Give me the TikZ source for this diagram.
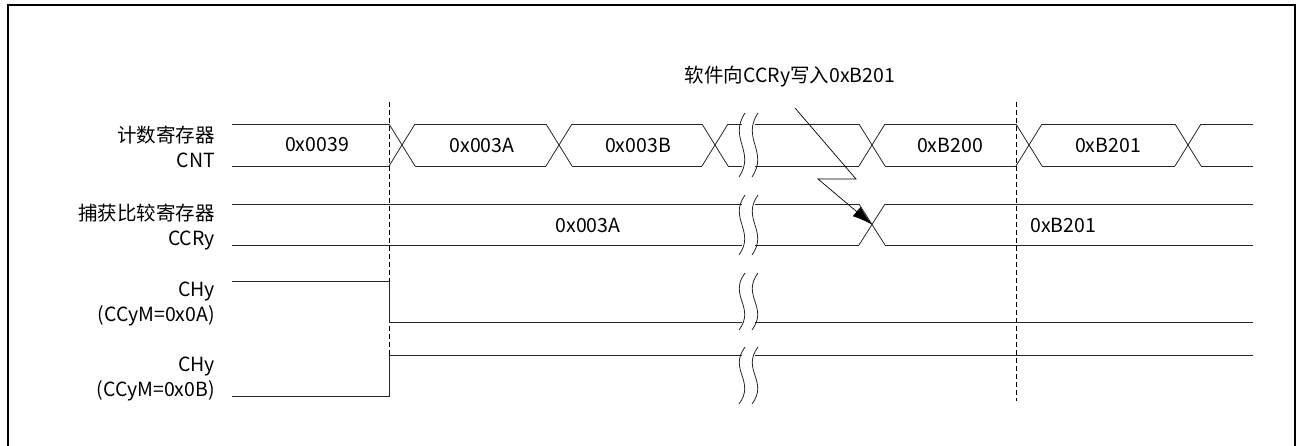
\documentclass[tikz,border=0pt]{standalone}
\usepackage{fontspec}
\setmainfont{Noto Sans CJK SC}
\usetikzlibrary{arrows.meta}
\tikzset{
  sig/.style={line width=0.8pt, black!85},
  guide/.style={line width=0.7pt, dash pattern=on 5pt off 3pt},
  lbl/.style={font=\fontsize{19.5}{24.5}\selectfont, align=right, anchor=east, inner sep=0pt},
  val/.style={font=\fontsize{19.5}{23}\selectfont, inner sep=0pt},
}
\newcommand{\brk}[2]{%
  % top y, bottom y of the two break marks
  \foreach \c in {742,755}{%
    \draw[sig] ({\c+3},#1) .. controls ({\c-14},{#1+0.4*(#2-#1)}) and ({\c+14},{#1+0.6*(#2-#1)}) .. ({\c-3},#2);
  }
}
\newcommand{\busx}[3]{%
  % top y, bottom y, comma-separated crossing starts
  \foreach \x in {#3}{%
    \draw[sig] (\x,#1) -- ({\x+26},#2) (\x,#2) -- ({\x+26},#1);
  }
}
\newcommand{\bussegs}[3]{%
  % top y, bottom y, from/to pairs
  \foreach \a/\b in {#3}{%
    \draw[sig] (\a,#1) -- (\b,#1) (\a,#2) -- (\b,#2);
  }
}
\begin{document}
\begin{tikzpicture}[x=1pt,y=-1pt]
  \useasboundingbox (0,0) rectangle (1302,445);
  \draw[line width=1.4pt] (8,450) -- (8,5) -- (1295,5) -- (1295,450);
  % labels
  \node[lbl] (cntlbl) at (215,147) {计数寄存器\\CNT};
  \node[lbl] (ccrlbl) at (215,227) {捕获比较寄存器\\CCRy};
  \node[lbl] (chalbl) at (215,304) {CHy\\(CCyM=0x0A)};
  \node[lbl] (chblbl) at (215,379) {CHy\\(CCyM=0x0B)};
  % guides
  \draw[guide] (389,102) -- (389,396);
  \draw[guide] (1016,102) -- (1016,401);
  % CNT
  \bussegs{124}{166}{232/389,415/546,572/702,728/742,755/859,885/1016,1042/1175,1201/1253}
  \busx{124}{166}{389,546,702,859,1016,1175}
  \brk{113}{177}
  \node[val] (c39) at (317,145) {0x0039};
  \node[val] (c3a) at (482,145) {0x003A};
  \node[val] (c3b) at (638,145) {0x003B};
  \node[val] (cb200) at (950,145) {0xB200};
  \node[val] (cb201) at (1108,145) {0xB201};
  % CCRy
  \bussegs{204}{245}{232/742,755/859,885/1253}
  \busx{204}{245}{859}
  \brk{195}{255}
  \coordinate (ccrx) at (872,224.5);
  \node[val] (r3a) at (588,225) {0x003A};
  \node[val,anchor=west] (rb201) at (1030,225) {0xB201};
  % CHy outputs
  \draw[sig] (232,281) -- (389,281) -- (389,322) -- (742,322) (755,322) -- (1253,322);
  \brk{273}{330}
  \draw[sig] (232,396) -- (389,396) -- (389,355) -- (742,355) (755,355) -- (1253,355);
  \brk{347}{404}
  % software write
  \node[val] (wrnote) at (790,77) {软件向CCRy写入0xB201};
  \coordinate (wr0) at (795,108);
  \coordinate (wr1) at (856,179);
  \coordinate (wr2) at (818,179);
  \draw[line width=0.7pt,-{Latex[length=20pt,width=12pt]}] (wr0) -- (wr1) -- (wr2) -- (ccrx);
\end{tikzpicture}
\end{document}
